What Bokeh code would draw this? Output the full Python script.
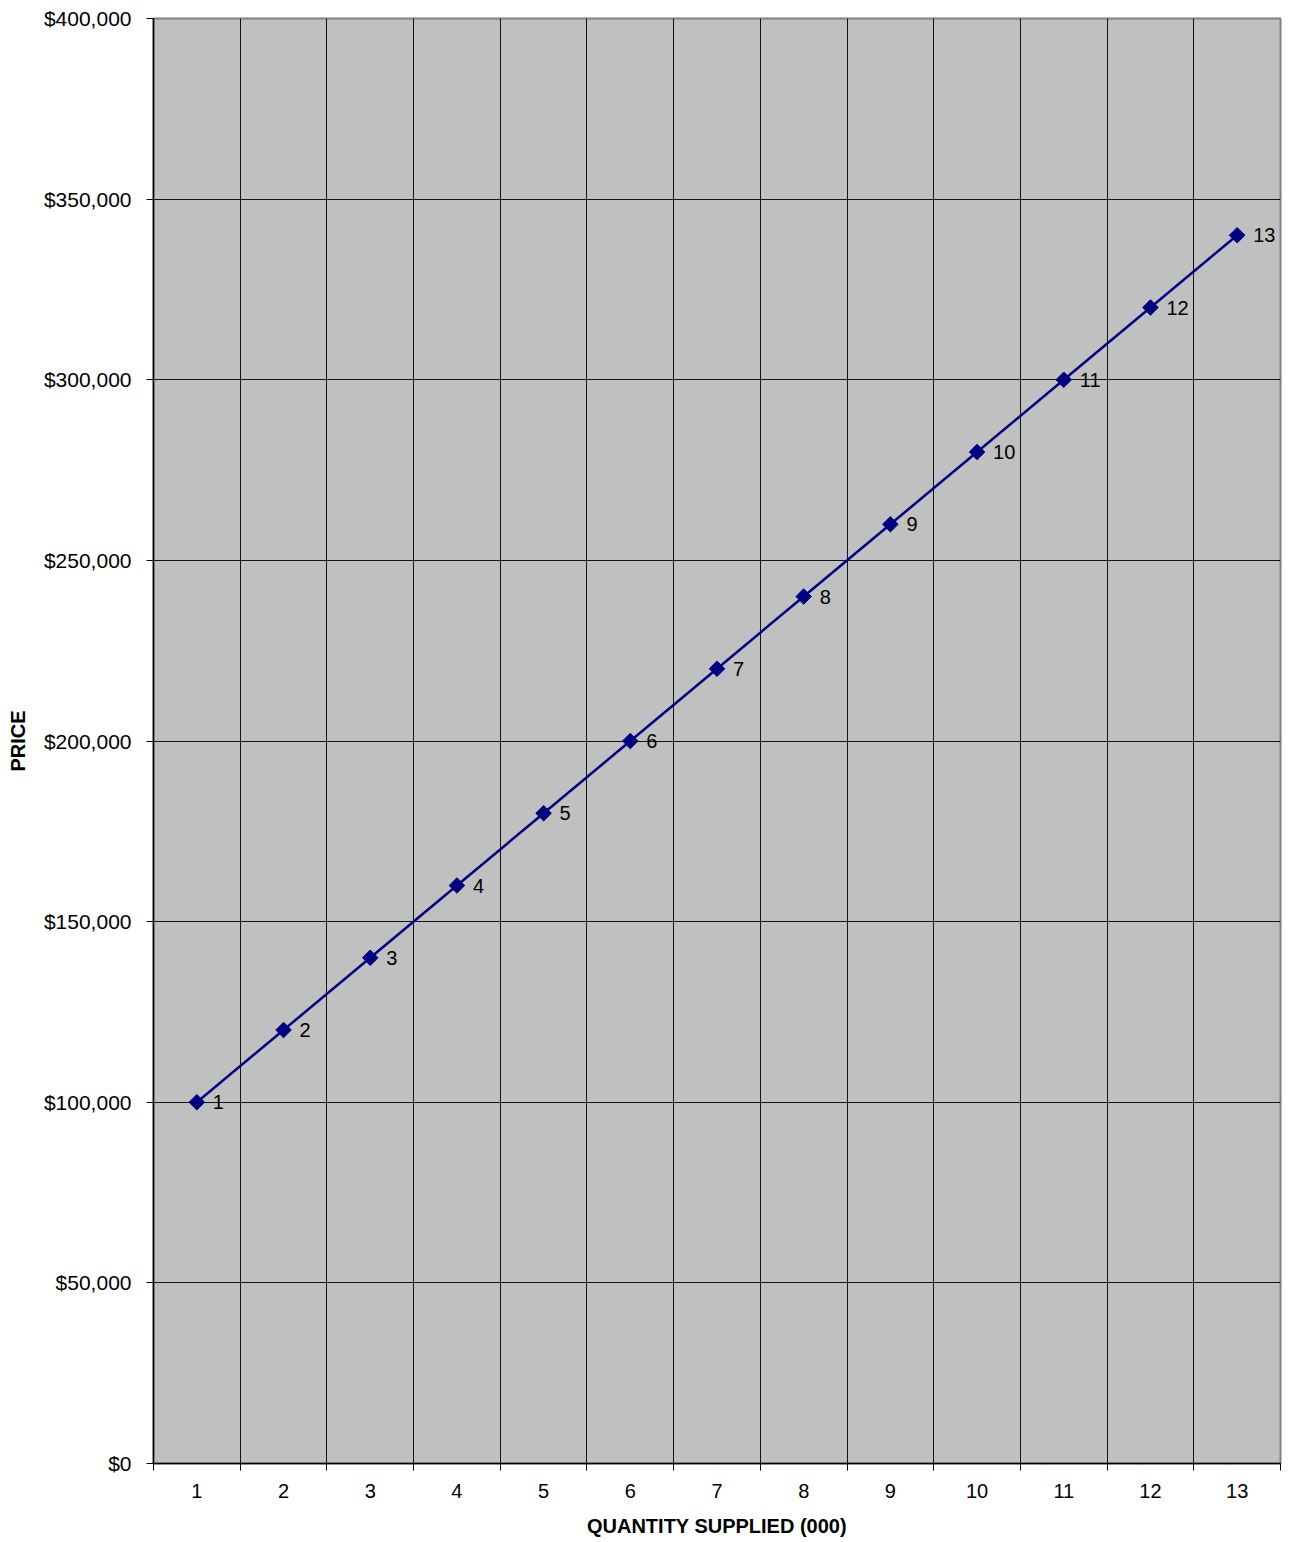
from math import pi
from bokeh.plotting import figure
from bokeh.models import FixedTicker, NumeralTickFormatter, Range1d, ColumnDataSource
from bokeh.core.properties import value
from bokeh.embed import file_html
from bokeh.resources import INLINE

quantity = [1, 2, 3, 4, 5, 6, 7, 8, 9, 10, 11, 12, 13]
price = [100000, 120000, 140000, 160000, 180000, 200000, 220000,
         240000, 260000, 280000, 300000, 320000, 340000]
point_labels = ["1", "2", "3", "4", "5", "6", "7", "8", "9", "10", "11", "12", "13"]
y_ticks = [0, 50000, 100000, 150000, 200000, 250000, 300000, 350000, 400000]

FONT = "Liberation Sans"

boundaries = [q - 0.5 for q in quantity] + [quantity[-1] + 0.5]

p = figure(width=1291, height=1542, output_backend="svg", toolbar_location=None,
           x_range=Range1d(quantity[0] - 0.5, quantity[-1] + 0.5),
           y_range=Range1d(y_ticks[0], y_ticks[-1]),
           min_border_left=153, min_border_right=11, min_border_top=18, min_border_bottom=79)

p.background_fill_color = "#C0C0C0"
p.border_fill_color = "white"
p.outline_line_color = "#808080"
p.outline_line_width = 2

# grid
p.xgrid.ticker = FixedTicker(ticks=boundaries)
p.ygrid.ticker = FixedTicker(ticks=y_ticks)
for g in (p.xgrid, p.ygrid):
    g.grid_line_color = "black"
    g.grid_line_width = 1
    g.grid_line_alpha = 0.9

# x axis
xa = p.xaxis[0]
xa.ticker = FixedTicker(ticks=quantity, minor_ticks=boundaries)
xa.major_tick_line_color = None
xa.minor_tick_line_color = "black"
xa.minor_tick_in = 0
xa.minor_tick_out = 7
xa.axis_line_color = "black"
xa.axis_line_width = 1.5
xa.major_label_text_font = FONT
xa.major_label_text_font_size = "20px"
xa.major_label_text_color = "black"
xa.major_label_standoff = 13
xa.axis_label = "QUANTITY SUPPLIED (000)"
xa.axis_label_text_font = FONT
xa.axis_label_text_font_size = "20px"
xa.axis_label_text_font_style = "bold"
xa.axis_label_text_color = "black"
xa.axis_label_standoff = 14

# y axis
ya = p.yaxis[0]
ya.ticker = FixedTicker(ticks=y_ticks)
ya.formatter = NumeralTickFormatter(format="$0,0")
ya.major_tick_in = 0
ya.major_tick_out = 7
ya.major_tick_line_color = "black"
ya.minor_tick_line_color = None
ya.axis_line_color = "black"
ya.axis_line_width = 1.5
ya.major_label_text_font = FONT
ya.major_label_text_font_size = "21px"
ya.major_label_text_color = "black"
ya.major_label_standoff = 15
ya.axis_label = "PRICE"
ya.axis_label_text_font = FONT
ya.axis_label_text_font_size = "20px"
ya.axis_label_text_font_style = "bold"
ya.axis_label_text_color = "black"
ya.axis_label_standoff = 12

src = ColumnDataSource(dict(x=quantity, y=price, t=point_labels))

p.line("x", "y", source=src, line_color="#000080", line_width=2.5)
p.scatter("x", "y", source=src, marker="square", angle=pi / 4, size=11,
          fill_color="#000080", line_color="#000080")
p.text("x", "y", text="t", source=src, x_offset=16, text_baseline="middle",
       text_align="left", text_font=value(FONT), text_font_size="20px",
       text_color="black")

open("out.html", "w").write(file_html(p, INLINE))
